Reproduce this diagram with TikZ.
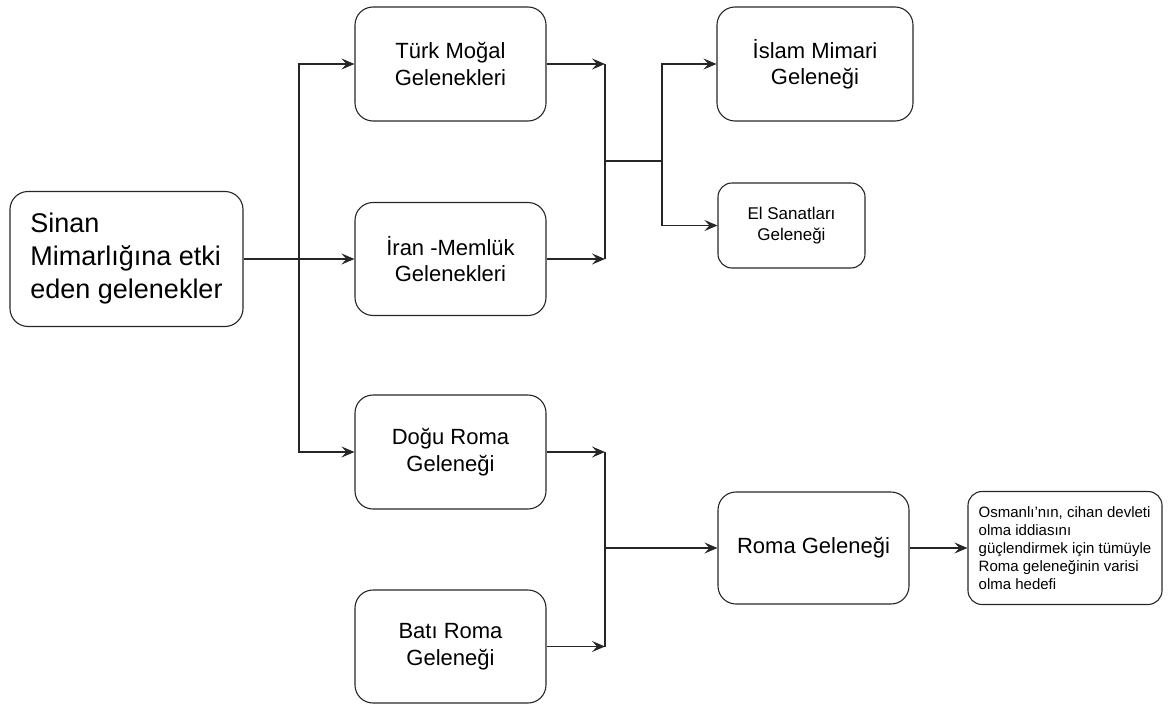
\documentclass[tikz,border=0pt]{standalone}
\usepackage{fontspec}
\setmainfont{Liberation Sans}
\usetikzlibrary{arrows.meta}
\begin{document}
\begin{tikzpicture}[x=1pt,y=-1pt,
  box/.style={draw=black!85, line width=1.1pt, rounded corners=18pt, align=center,
    inner sep=0pt, font=\fontsize{22}{26.5}\selectfont},
  smallbox/.style={box, rounded corners=14pt, font=\fontsize{17}{21}\selectfont},
  link/.style={draw=black!85, line width=1.1pt},
  arr/.style={link, -{Stealth[length=13pt,width=11pt,inset=5pt]}}]
\useasboundingbox (0,0) rectangle (1170,704);

% source
\node[box, minimum width=233pt, minimum height=135pt, align=left,
  font=\fontsize{27}{33}\selectfont] (sinan) at (126.5,259)
  {Sinan\\Mimarlığına etki\\eden gelenekler};

% first column
\node[box, minimum width=191pt, minimum height=114pt] (turk) at (450.5,64)
  {Türk Moğal\\Gelenekleri};
\node[box, minimum width=191pt, minimum height=113pt] (iran) at (450.5,259)
  {İran -Memlük\\Gelenekleri};
\node[box, minimum width=191pt, minimum height=114pt] (dogu) at (450.5,452)
  {Doğu Roma\\Geleneği};
\node[box, minimum width=191pt, minimum height=113pt] (bati) at (450.5,646.5)
  {Batı Roma\\Geleneği};

% second column
\node[box, minimum width=196pt, minimum height=114pt] (islam) at (815,64)
  {İslam Mimari\\Geleneği};
\node[smallbox, minimum width=147pt, minimum height=85pt] (el) at (791.5,225.5)
  {El Sanatları\\Geleneği};
\node[box, minimum width=191pt, minimum height=112pt] (roma) at (813.5,548)
  {Roma Geleneği};

% note
\node[box, rounded corners=14pt, minimum width=194pt, minimum height=113pt,
  align=left, font=\fontsize{15}{18}\selectfont] (osm) at (1065,548)
  {Osmanlı'nın, cihan devleti\\olma iddiasını\\güçlendirmek için tümüyle\\Roma geleneğinin varisi\\olma hedefi};

% junction points
\coordinate (j1) at (299,259);
\coordinate (j2) at (605,161);
\coordinate (j3) at (662,161);
\coordinate (j4) at (605,548);

% source to first column
\draw[arr] (sinan.east) -- (iran.west);
\draw[arr] (j1) |- (turk.west);
\draw[arr] (j1) |- (dogu.west);

% Türk Moğal + İran-Memlük bracket
\draw[arr] (turk.east) -- (turk.east -| j2);
\draw[arr] (iran.east) -- (iran.east -| j2);
\draw[link] (turk.east -| j2) -- (iran.east -| j2);
\draw[link] (j2) -- (j3);
\draw[arr] (j3) |- (islam.west);
\draw[arr] (j3) |- (el.west);

% Doğu + Batı Roma bracket
\draw[arr] (dogu.east) -- (dogu.east -| j4);
\draw[arr] (bati.east) -- (bati.east -| j4);
\draw[link] (dogu.east -| j4) -- (bati.east -| j4);
\draw[arr] (j4) -- (roma.west);
\draw[arr] (roma.east) -- (osm.west);
\end{tikzpicture}
\end{document}
